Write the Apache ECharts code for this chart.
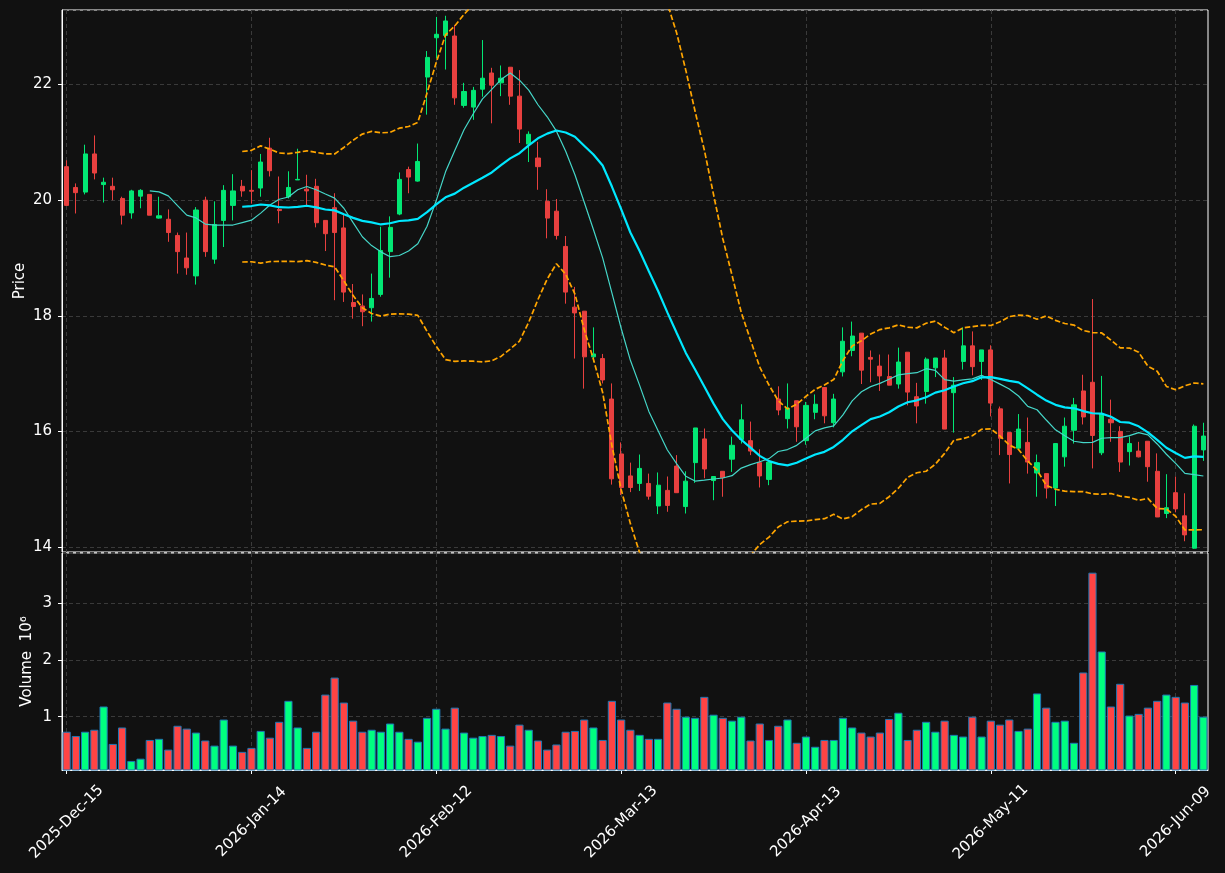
<!DOCTYPE html>
<html>
<head>
<meta charset="utf-8">
<script src="https://cdn.jsdelivr.net/npm/echarts@6/dist/echarts.min.js"></script>
<style>
html, body { margin: 0; padding: 0; background: #111111; }
#chart { width: 1225px; height: 873px; }
</style>
</head>
<body>
<div id="chart"></div>
<script>
// trading days, Dec 15 2025 .. Jun 12 2026
var dates = [
  '2025-Dec-15','2025-Dec-16','2025-Dec-17','2025-Dec-18','2025-Dec-19','2025-Dec-22','2025-Dec-23','2025-Dec-24','2025-Dec-26','2025-Dec-29',
  '2025-Dec-30','2025-Dec-31','2026-Jan-02','2026-Jan-05','2026-Jan-06','2026-Jan-07','2026-Jan-08','2026-Jan-09','2026-Jan-12','2026-Jan-13',
  '2026-Jan-14','2026-Jan-15','2026-Jan-16','2026-Jan-20','2026-Jan-21','2026-Jan-22','2026-Jan-23','2026-Jan-26','2026-Jan-27','2026-Jan-28',
  '2026-Jan-29','2026-Jan-30','2026-Feb-02','2026-Feb-03','2026-Feb-04','2026-Feb-05','2026-Feb-06','2026-Feb-09','2026-Feb-10','2026-Feb-11',
  '2026-Feb-12','2026-Feb-13','2026-Feb-17','2026-Feb-18','2026-Feb-19','2026-Feb-20','2026-Feb-23','2026-Feb-24','2026-Feb-25','2026-Feb-26',
  '2026-Feb-27','2026-Mar-02','2026-Mar-03','2026-Mar-04','2026-Mar-05','2026-Mar-06','2026-Mar-09','2026-Mar-10','2026-Mar-11','2026-Mar-12',
  '2026-Mar-13','2026-Mar-16','2026-Mar-17','2026-Mar-18','2026-Mar-19','2026-Mar-20','2026-Mar-23','2026-Mar-24','2026-Mar-25','2026-Mar-26',
  '2026-Mar-27','2026-Mar-30','2026-Mar-31','2026-Apr-01','2026-Apr-02','2026-Apr-06','2026-Apr-07','2026-Apr-08','2026-Apr-09','2026-Apr-10',
  '2026-Apr-13','2026-Apr-14','2026-Apr-15','2026-Apr-16','2026-Apr-17','2026-Apr-20','2026-Apr-21','2026-Apr-22','2026-Apr-23','2026-Apr-24',
  '2026-Apr-27','2026-Apr-28','2026-Apr-29','2026-Apr-30','2026-May-01','2026-May-04','2026-May-05','2026-May-06','2026-May-07','2026-May-08',
  '2026-May-11','2026-May-12','2026-May-13','2026-May-14','2026-May-15','2026-May-18','2026-May-19','2026-May-20','2026-May-21','2026-May-22',
  '2026-May-26','2026-May-27','2026-May-28','2026-May-29','2026-Jun-01','2026-Jun-02','2026-Jun-03','2026-Jun-04','2026-Jun-05','2026-Jun-08',
  '2026-Jun-09','2026-Jun-10','2026-Jun-11','2026-Jun-12'
];

var opens = [
  20.58,20.22,20.14,20.80,20.27,20.24,20.03,19.78,20.07,20.10,
  19.69,19.67,19.39,19.00,18.69,20.00,18.98,19.65,19.91,20.24,
  20.17,20.21,20.90,19.84,20.06,20.35,20.19,20.24,19.65,19.87,
  19.52,18.23,18.17,18.14,18.37,19.11,19.76,20.53,20.33,22.13,
  22.81,22.85,22.84,21.64,21.61,21.92,22.20,22.03,22.30,21.80,
  20.97,20.73,19.98,19.81,19.20,18.15,18.08,17.29,17.26,16.56,
  15.61,15.23,15.10,15.10,14.71,14.98,15.40,14.70,15.46,15.87,
  15.15,15.31,15.52,15.86,15.84,15.46,15.17,16.56,16.22,16.53,
  15.84,16.33,16.76,16.15,17.03,17.40,17.70,17.28,17.13,16.95,
  16.82,17.37,16.60,16.69,17.10,17.27,16.67,17.21,17.48,17.21,
  17.41,16.39,15.98,15.71,15.81,15.28,15.27,15.02,15.56,16.02,
  16.70,16.85,15.63,16.21,16.00,15.65,15.66,15.83,15.31,14.58,
  14.94,14.54,13.98,15.68
];
var highs = [
  20.69,20.29,20.96,21.12,20.39,20.39,20.06,20.18,20.19,20.10,
  20.06,19.84,19.44,19.44,19.88,20.06,19.98,20.26,20.45,20.35,
  20.52,20.80,21.08,20.41,20.50,20.89,20.44,20.37,19.65,20.12,
  19.77,18.55,18.37,18.73,19.54,19.72,20.48,20.58,20.98,22.58,
  23.17,23.19,23.03,22.03,21.96,22.77,22.29,22.33,22.30,22.25,
  21.19,21.01,20.19,20.02,19.38,18.50,18.08,17.80,17.34,16.83,
  15.81,15.46,15.60,15.27,15.29,15.22,15.59,15.31,16.06,16.05,
  15.22,15.31,15.91,16.47,16.17,15.69,15.47,16.78,16.83,16.53,
  16.51,16.64,16.76,16.65,17.80,17.90,17.70,17.40,17.33,17.33,
  17.45,17.37,16.84,17.28,17.27,17.41,16.94,17.80,17.73,17.41,
  17.49,16.43,15.98,16.30,16.24,15.60,15.27,15.79,16.24,16.58,
  16.98,18.29,16.96,16.55,16.09,15.91,15.82,15.83,15.62,15.26,
  15.22,14.93,16.12,16.15
];
var lows = [
  19.90,19.77,20.10,20.36,19.96,20.00,19.58,19.68,19.86,19.74,
  19.68,19.28,18.73,18.71,18.54,19.02,18.90,19.19,19.65,20.06,
  19.94,20.06,20.41,19.60,20.03,20.35,19.91,19.53,19.12,18.27,
  18.24,17.95,17.82,17.90,18.33,18.66,19.74,20.12,20.32,21.48,
  22.45,22.26,21.65,21.60,21.39,21.79,21.33,21.80,21.65,20.99,
  20.66,20.18,19.34,19.32,18.21,17.26,16.74,17.20,16.83,15.08,
  14.90,14.95,14.97,14.82,14.57,14.61,14.94,14.58,15.11,15.19,
  14.81,14.87,15.30,15.79,15.59,15.03,15.07,16.28,16.05,15.82,
  15.77,16.21,16.14,16.07,16.95,17.30,16.82,16.85,16.70,16.80,
  16.74,16.45,16.14,16.48,16.94,16.04,15.98,17.07,16.97,16.89,
  16.26,15.59,15.10,15.71,15.27,14.87,14.84,14.71,15.39,15.79,
  16.12,15.36,15.59,15.82,15.30,15.41,15.55,15.13,14.52,14.50,
  14.60,14.10,13.97,15.49
];
var closes = [
  19.91,20.13,20.80,20.47,20.31,20.18,19.74,20.16,20.17,19.74,
  19.73,19.44,19.11,18.83,19.83,19.11,19.58,20.17,20.16,20.16,
  20.155,20.66,20.51,19.82,20.22,20.36,20.16,19.61,19.42,19.44,
  18.41,18.16,18.07,18.30,19.13,19.53,20.36,20.40,20.67,22.47,
  22.87,23.10,21.77,21.88,21.90,22.11,21.99,22.11,21.80,21.23,
  21.14,20.58,19.69,19.39,18.41,18.05,17.29,17.34,16.89,15.18,
  15.03,15.03,15.36,14.88,15.07,14.72,14.94,15.14,16.06,15.35,
  15.22,15.20,15.76,16.20,15.66,15.23,15.47,16.37,16.40,16.08,
  16.45,16.47,16.27,16.56,17.56,17.65,17.06,17.25,16.96,16.80,
  17.20,16.68,16.44,17.25,17.27,16.04,16.80,17.48,17.12,17.41,
  16.49,15.88,15.60,16.04,15.47,15.46,15.02,15.79,16.09,16.46,
  16.25,15.93,16.31,16.15,15.47,15.79,15.56,15.39,14.52,14.68,
  14.66,14.21,16.09,15.92
];
// volume in millions
var volumes = [
  0.735,0.66,0.735,0.77,1.18,0.52,0.81,0.22,0.26,0.59,
  0.61,0.42,0.84,0.79,0.72,0.58,0.49,0.95,0.49,0.38,
  0.45,0.75,0.63,0.91,1.28,0.81,0.45,0.735,1.39,1.69,
  1.25,0.93,0.735,0.77,0.735,0.88,0.735,0.61,0.56,0.98,
  1.14,0.79,1.16,0.72,0.63,0.66,0.68,0.66,0.49,0.86,
  0.77,0.58,0.42,0.51,0.735,0.75,0.95,0.81,0.59,1.28,
  0.95,0.77,0.68,0.61,0.61,1.25,1.14,1.00,0.98,1.35,
  1.035,0.98,0.93,1.00,0.58,0.88,0.59,0.84,0.95,0.54,
  0.65,0.47,0.59,0.59,0.98,0.81,0.72,0.65,0.72,0.96,
  1.07,0.59,0.77,0.91,0.735,0.93,0.68,0.65,1.00,0.65,
  0.93,0.86,0.95,0.75,0.79,1.41,1.16,0.91,0.93,0.54,
  1.78,3.54,2.15,1.18,1.58,1.02,1.05,1.16,1.28,1.39,
  1.35,1.25,1.56,1.00
];

var upColor = '#02e774';
var downColor = '#e8403f';
var upVol = '#00ff80';
var downVol = '#ff4444';
var gridColor = '#3a3a3a';
var fontSize = 15;

function movingAverage(values, n) {
    var out = [];
    for (var i = 0; i < values.length; i++) {
        if (i < n - 1) { out.push('-'); continue; }
        var sum = 0;
        for (var j = i - n + 1; j <= i; j++) sum += values[j];
        out.push(sum / n);
    }
    return out;
}

function bollinger(values, n, k, sign) {
    var mid = movingAverage(values, n);
    var out = [];
    for (var i = 0; i < values.length; i++) {
        if (i < n - 1) { out.push('-'); continue; }
        var ss = 0;
        for (var j = i - n + 1; j <= i; j++) ss += Math.pow(values[j] - mid[i], 2);
        out.push(mid[i] + sign * k * Math.sqrt(ss / n));
    }
    return out;
}

var candleData = [];
var volData = [];
for (var i = 0; i < dates.length; i++) {
    candleData.push([opens[i], closes[i], lows[i], highs[i]]);
    volData.push({
        value: volumes[i],
        itemStyle: { color: closes[i] >= opens[i] ? upVol : downVol }
    });
}

var chart = echarts.init(document.getElementById('chart'));

var splitX = {
    show: true,
    interval: 19,
    alignWithLabel: true,
    lineStyle: { color: gridColor, type: [4, 3], width: 1 }
};

var option = {
    backgroundColor: '#111111',
    animation: false,
    textStyle: { fontFamily: 'DejaVu Sans' },
    grid: [
        { left: 62, right: 17, top: 10, height: 542, show: true, borderColor: '#ffffff', borderWidth: 1 },
        { left: 62, right: 17, top: 553, height: 217, show: true, borderColor: '#ffffff', borderWidth: 1 }
    ],
    xAxis: [
        {
            type: 'category', gridIndex: 0, data: dates, boundaryGap: true,
            axisLine: { show: false }, axisTick: { show: false }, axisLabel: { show: false },
            splitLine: splitX
        },
        {
            type: 'category', gridIndex: 1, data: dates, boundaryGap: true,
            axisLine: { show: true, lineStyle: { color: '#ffffff' } },
            axisTick: { show: true, alignWithLabel: true, interval: 19, length: 4, lineStyle: { color: '#ffffff' } },
            axisLabel: {
                interval: 19, rotate: 45, align: 'center', verticalAlign: 'middle',
                margin: 52, color: '#ffffff', fontSize: fontSize
            },
            splitLine: splitX
        }
    ],
    yAxis: [
        {
            type: 'value', gridIndex: 0, min: 13.914, max: 23.29, splitNumber: 5,
            name: 'Price', nameLocation: 'middle', nameGap: 34, nameMoveOverlap: false,
            nameTextStyle: { color: '#ffffff', fontSize: fontSize },
            axisLine: { show: true, lineStyle: { color: '#ffffff' } },
            axisTick: { show: true, length: 4, lineStyle: { color: '#ffffff' } },
            axisLabel: { color: '#ffffff', fontSize: fontSize, margin: 10, showMinLabel: false, showMaxLabel: false },
            splitLine: { show: true, lineStyle: { color: gridColor, type: [4, 3] } }
        },
        {
            type: 'value', gridIndex: 1, min: 0.06, max: 3.887, splitNumber: 4,
            name: 'Volume  10\u2076', nameLocation: 'middle', nameGap: 27, nameMoveOverlap: false,
            nameTextStyle: { color: '#ffffff', fontSize: fontSize },
            axisLine: { show: true, lineStyle: { color: '#ffffff' } },
            axisTick: { show: true, length: 4, lineStyle: { color: '#ffffff' } },
            axisLabel: { color: '#ffffff', fontSize: fontSize, margin: 10, showMinLabel: false, showMaxLabel: false },
            splitLine: { show: true, lineStyle: { color: gridColor, type: [4, 3] } }
        }
    ],
    series: [
        {
            name: 'OHLC', type: 'candlestick', xAxisIndex: 0, yAxisIndex: 0,
            data: candleData, barWidth: 4.6,
            itemStyle: {
                color: upColor, color0: downColor,
                borderColor: upColor, borderColor0: downColor, borderWidth: 1
            }
        },
        {
            name: 'MA10', type: 'line', xAxisIndex: 0, yAxisIndex: 0,
            data: movingAverage(closes, 10), showSymbol: false, symbol: 'none',
            lineStyle: { color: '#45d6c8', width: 1.2 }
        },
        {
            name: 'MA20', type: 'line', xAxisIndex: 0, yAxisIndex: 0,
            data: movingAverage(closes, 20), showSymbol: false, symbol: 'none',
            lineStyle: { color: '#00e8ff', width: 2.2 }
        },
        {
            name: 'Upper', type: 'line', xAxisIndex: 0, yAxisIndex: 0,
            data: bollinger(closes, 20, 2, 1), showSymbol: false, symbol: 'none',
            lineStyle: { color: '#ffa500', width: 1.7, type: [5.5, 2.4] }
        },
        {
            name: 'Lower', type: 'line', xAxisIndex: 0, yAxisIndex: 0,
            data: bollinger(closes, 20, 2, -1), showSymbol: false, symbol: 'none',
            lineStyle: { color: '#ffa500', width: 1.7, type: [5.5, 2.4] }
        },
        {
            name: 'Volume', type: 'bar', xAxisIndex: 1, yAxisIndex: 1,
            data: volData, barWidth: 8.2,
            itemStyle: { borderColor: '#1f77b4', borderWidth: 1 }
        }
    ]
};

chart.setOption(option);
</script>
</body>
</html>
